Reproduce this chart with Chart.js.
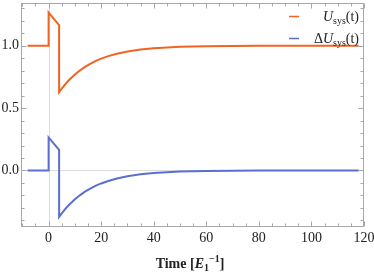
<!DOCTYPE html>
<html>
<head>
<meta charset="utf-8">
<script src="https://cdn.jsdelivr.net/npm/chart.js@4"></script>
<style>
  html, body { margin: 0; padding: 0; background: #fff; }
  #wrap { width: 374px; height: 273px; position: relative; }
</style>
</head>
<body>
<div id="wrap"><canvas id="sysChart"></canvas></div>
<script>
// Valores (tempo em unidades de 1/E1)
const timePoints = [-8, 0, 0, 2, 4, 4, 5, 6, 7, 8, 10, 12, 14, 16, 18, 20, 23, 26, 30, 35, 40, 45, 50, 60, 70, 80, 95, 118];
const uSys = [1.0, 1.0, 1.265, 1.215, 1.165, 0.627, 0.656, 0.682, 0.707, 0.729, 0.769, 0.803, 0.832, 0.857, 0.878, 0.896, 0.918, 0.936, 0.953, 0.969, 0.979, 0.986, 0.991, 0.996, 0.998, 0.999, 1.0, 1.0];
const deltaUSys = [0, 0, 0.265, 0.215, 0.165, -0.373, -0.344, -0.318, -0.293, -0.271, -0.231, -0.197, -0.168, -0.143, -0.122, -0.104, -0.082, -0.064, -0.047, -0.031, -0.021, -0.014, -0.009, -0.004, -0.002, -0.001, 0, 0];

// Marcas dos eixos
const xTicks = [0, 20, 40, 60, 80, 100, 120];
const yTicks = [0.0, 0.5, 1.0];
const xRange = [-10.5, 120];
const yRange = [-0.453, 1.342];

const orange = '#EF6420';
const blue = '#5B6FD3';
const frameColor = '#a8a8a8';
const serif = "'Liberation Serif', 'Times New Roman', serif";

function toPoints(xs, ys) {
    return xs.map((x, i) => ({ x: x, y: ys[i] }));
}

// Linhas de referência em x=0 e y=0 (atrás das curvas)
const refLines = {
    id: 'refLines',
    beforeDatasetsDraw(chart) {
        const { ctx, chartArea: a, scales: { x, y } } = chart;
        ctx.save();
        ctx.strokeStyle = '#dcdcdc';
        ctx.lineWidth = 1;
        const x0 = Math.round(x.getPixelForValue(0)) + 0.5;
        const y0 = Math.round(y.getPixelForValue(0)) + 0.5;
        ctx.beginPath();
        ctx.moveTo(x0, a.top); ctx.lineTo(x0, a.bottom);
        ctx.moveTo(a.left, y0); ctx.lineTo(a.right, y0);
        ctx.stroke();
        ctx.restore();
    }
};

// Moldura com marcas para dentro, nos quatro lados, e rótulos das marcas
const frame = {
    id: 'frame',
    afterDatasetsDraw(chart) {
        const { ctx, chartArea: a, scales: { x, y } } = chart;
        ctx.save();
        ctx.strokeStyle = frameColor;
        ctx.lineWidth = 1;
        const L = Math.round(a.left) + 0.5, R = Math.round(a.right) - 0.5;
        const T = Math.round(a.top) + 0.5, B = Math.round(a.bottom) - 0.5;
        ctx.strokeRect(L, T, R - L, B - T);
        ctx.beginPath();
        for (let v = -10; v <= 120; v += 5) {
            const px = Math.round(x.getPixelForValue(v)) + 0.5;
            const len = v % 20 === 0 ? 5 : 3;
            ctx.moveTo(px, B); ctx.lineTo(px, B - len);
            ctx.moveTo(px, T); ctx.lineTo(px, T + len);
        }
        for (let k = -4; k <= 13; k++) {
            const v = k / 10;
            const py = Math.round(y.getPixelForValue(v)) + 0.5;
            const len = k % 5 === 0 ? 5 : 3;
            ctx.moveTo(L, py); ctx.lineTo(L + len, py);
            ctx.moveTo(R, py); ctx.lineTo(R - len, py);
        }
        ctx.stroke();

        ctx.fillStyle = '#222';
        ctx.font = '14px ' + serif;
        ctx.textAlign = 'center';
        ctx.textBaseline = 'top';
        xTicks.forEach(v => ctx.fillText(String(v), x.getPixelForValue(v), B + 5));
        ctx.textAlign = 'right';
        ctx.textBaseline = 'middle';
        yTicks.forEach(v => ctx.fillText(v.toFixed(1), L - 2.5, y.getPixelForValue(v)));
        ctx.restore();
    }
};

// Desenha um texto composto por partes (itálico, índice, expoente)
function drawParts(ctx, parts, x, baseline, align) {
    let total = 0;
    parts.forEach(p => { ctx.font = p.font; total += ctx.measureText(p.text).width; });
    let cx = align === 'right' ? x - total : align === 'center' ? x - total / 2 : x;
    parts.forEach(p => {
        ctx.font = p.font;
        ctx.fillText(p.text, cx, baseline + (p.dy || 0));
        cx += ctx.measureText(p.text).width;
    });
}

// Legenda e título do eixo x com índices
const annotations = {
    id: 'annotations',
    afterDraw(chart) {
        const { ctx } = chart;
        ctx.save();
        ctx.fillStyle = '#222';
        ctx.textAlign = 'left';
        ctx.textBaseline = 'alphabetic';
        const rows = [
            { color: orange, y: 16, parts: [
                { text: 'U', font: 'italic 14px ' + serif },
                { text: 'sys', font: '10px ' + serif, dy: 3 },
                { text: '(t)', font: '14px ' + serif }
            ]},
            { color: blue, y: 38, parts: [
                { text: '\u0394', font: '14px ' + serif },
                { text: 'U', font: 'italic 14px ' + serif },
                { text: 'sys', font: '10px ' + serif, dy: 3 },
                { text: '(t)', font: '14px ' + serif }
            ]}
        ];
        rows.forEach(r => {
            ctx.strokeStyle = r.color;
            ctx.lineWidth = 1.5;
            ctx.beginPath();
            ctx.moveTo(289, r.y + 0.5);
            ctx.lineTo(299, r.y + 0.5);
            ctx.stroke();
            drawParts(ctx, r.parts, 359, r.y + 5, 'right');
        });
        drawParts(ctx, [
            { text: 'Time [', font: 'bold 14px ' + serif },
            { text: 'E', font: 'bold italic 14px ' + serif },
            { text: '1', font: 'bold 10px ' + serif, dy: 3 },
            { text: '\u22121', font: 'bold 10px ' + serif, dy: -6 },
            { text: ']', font: 'bold 14px ' + serif }
        ], 190, 268, 'center');
        ctx.restore();
    }
};

const ctx = document.getElementById('sysChart').getContext('2d');
const sysChart = new Chart(ctx, {
    type: 'line',
    data: {
        datasets: [
            {
                label: 'Usys(t)',
                data: toPoints(timePoints, uSys),
                borderColor: orange,
                borderWidth: 2,
                pointRadius: 0,
                tension: 0,
                fill: false
            },
            {
                label: '\u0394Usys(t)',
                data: toPoints(timePoints, deltaUSys),
                borderColor: blue,
                borderWidth: 2,
                pointRadius: 0,
                tension: 0,
                fill: false
            }
        ]
    },
    options: {
        responsive: true,
        maintainAspectRatio: false,
        animation: false,
        layout: { padding: { top: 3, right: 10, left: 0, bottom: 0 } },
        scales: {
            x: {
                type: 'linear',
                min: xRange[0],
                max: xRange[1],
                grid: { display: false, drawTicks: false },
                border: { display: false },
                afterBuildTicks: s => { s.ticks = xTicks.map(v => ({ value: v })); },
                afterFit: s => { s.height = 46; s.paddingLeft = 0; s.paddingRight = 0; },
                ticks: { display: false }
            },
            y: {
                min: yRange[0],
                max: yRange[1],
                grid: { display: false, drawTicks: false },
                border: { display: false },
                afterBuildTicks: s => { s.ticks = yTicks.map(v => ({ value: v })); },
                afterFit: s => { s.width = 21; s.paddingTop = 0; s.paddingBottom = 0; },
                ticks: { display: false }
            }
        },
        plugins: {
            legend: { display: false },
            tooltip: { enabled: false }
        }
    },
    plugins: [refLines, frame, annotations]
});
</script>
</body>
</html>
